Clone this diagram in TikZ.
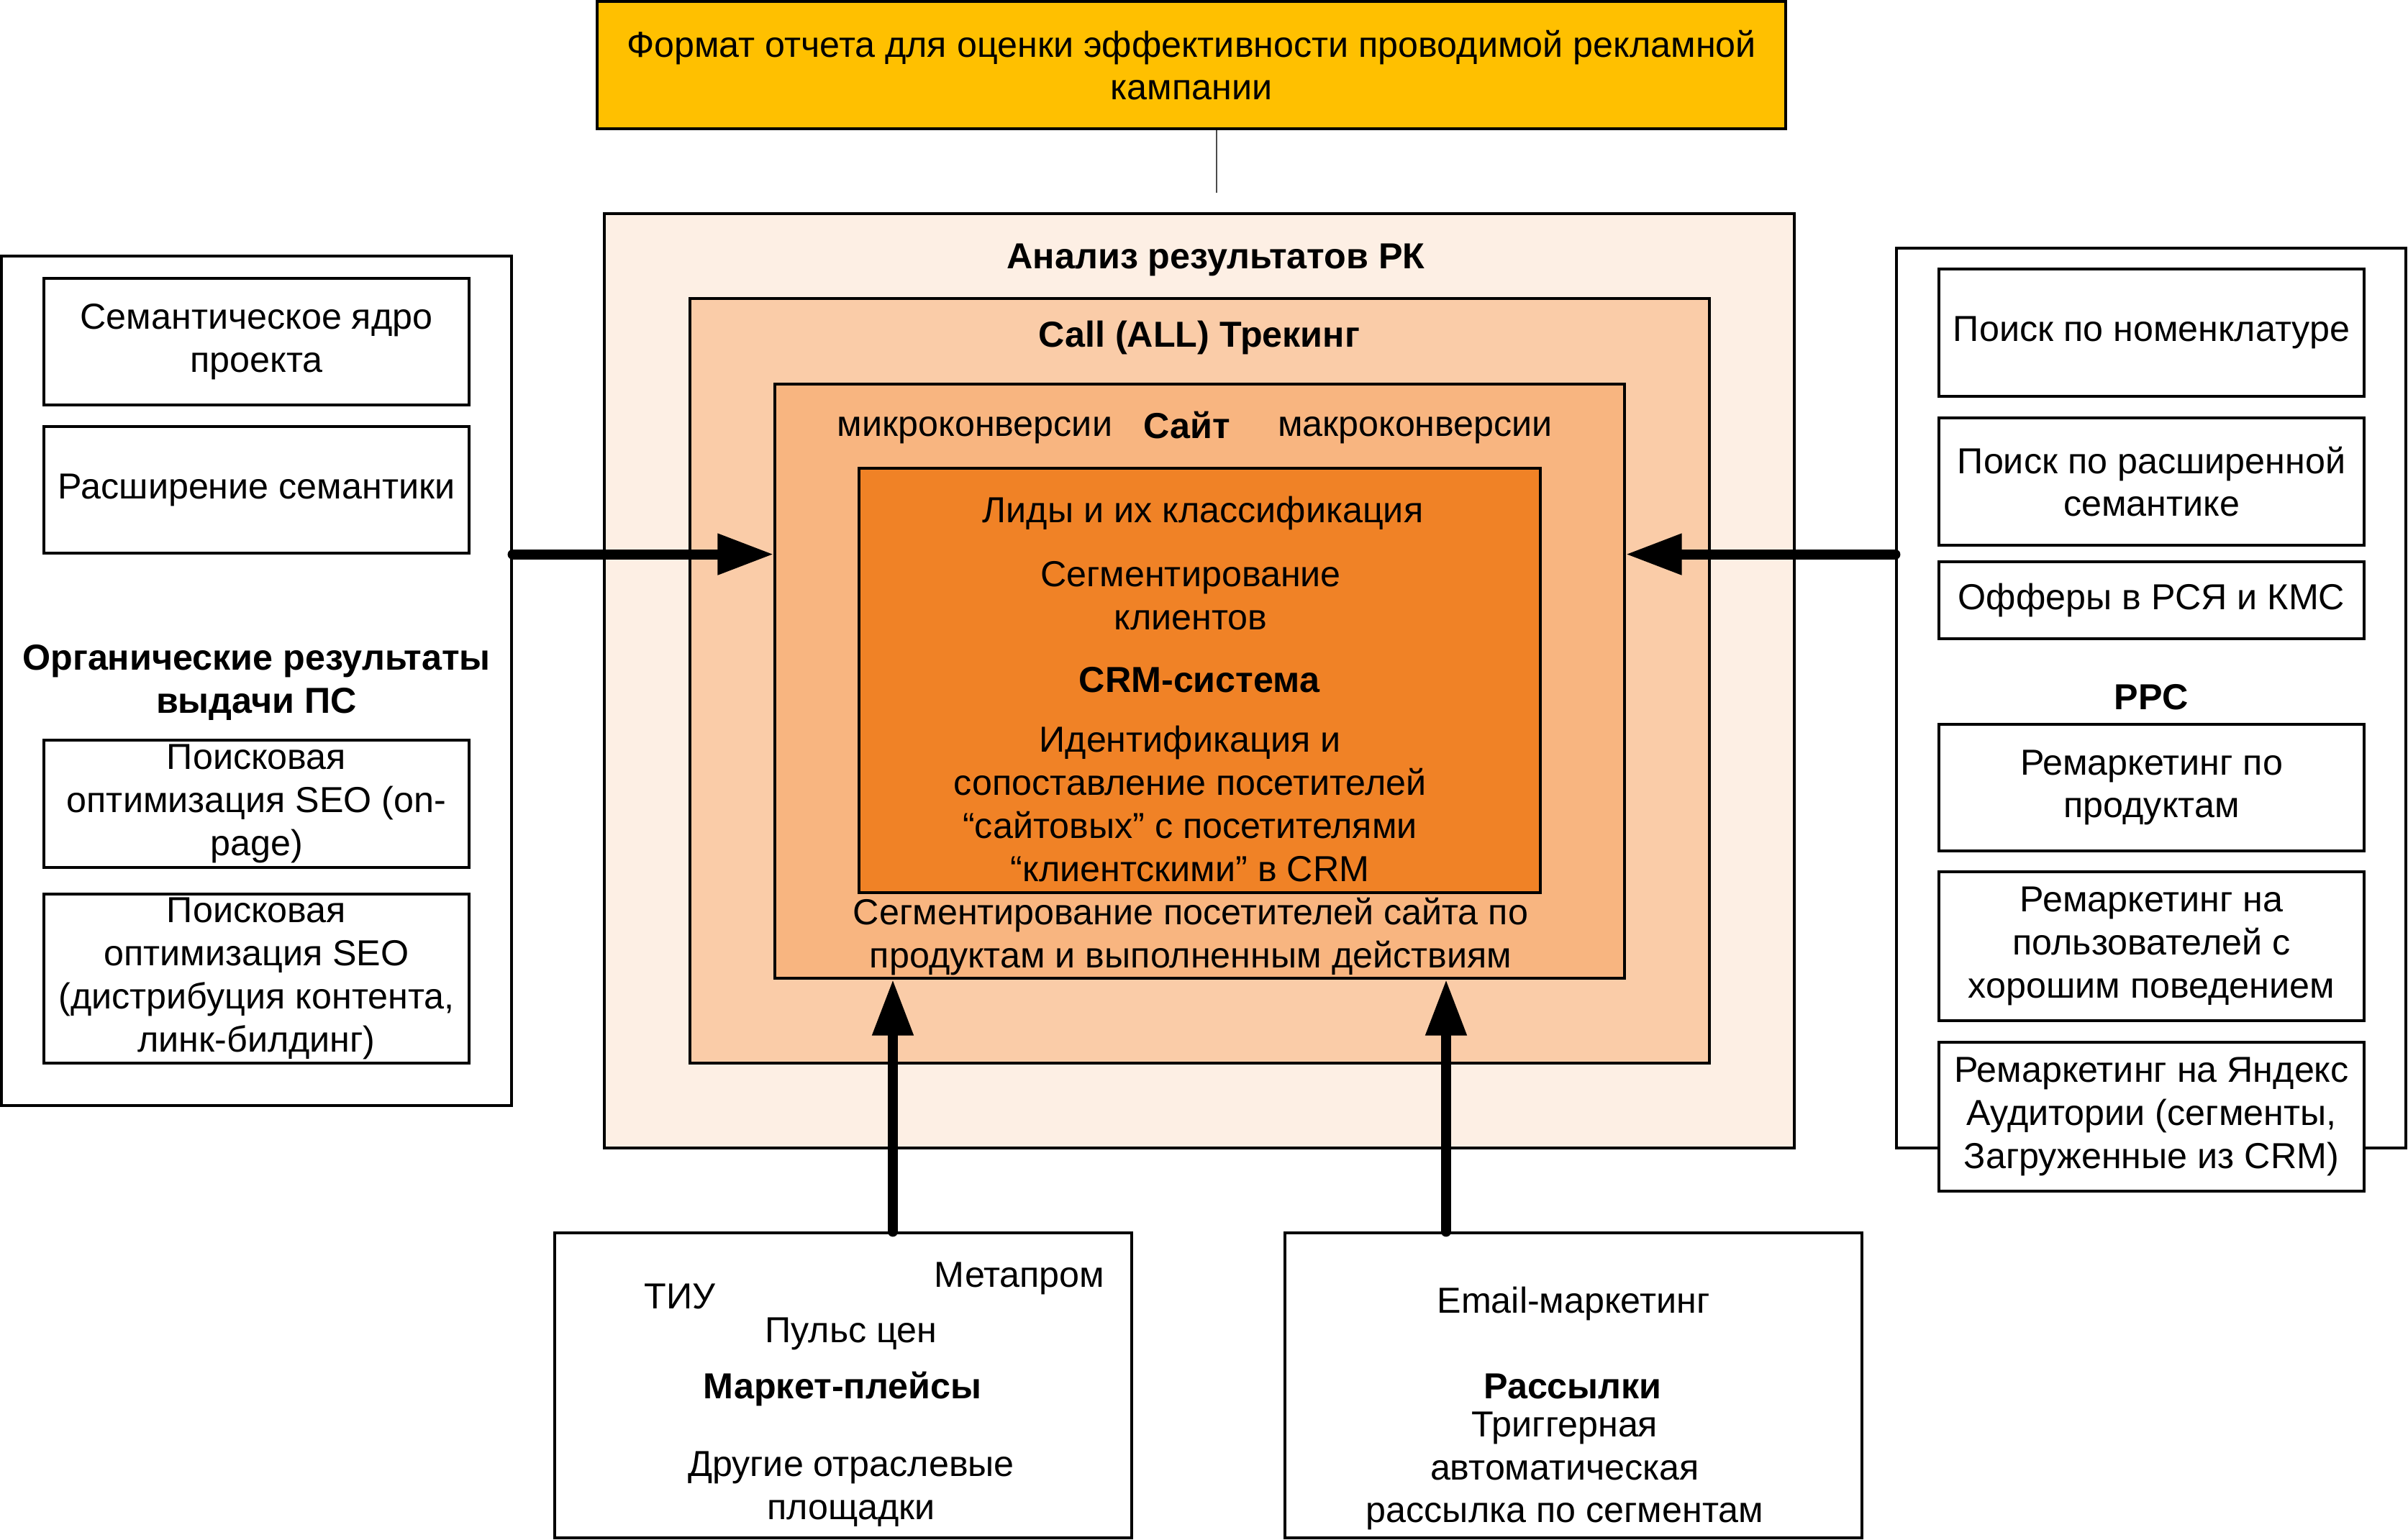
\documentclass[tikz,border=0pt]{standalone}
\usepackage{fontspec}
\setmainfont{Liberation Sans}
\usepackage{tikz}
\usetikzlibrary{arrows.meta, positioning}
\definecolor{fmtyellow}{RGB}{255, 192, 0}
\definecolor{peachA}{RGB}{253, 239, 228}
\definecolor{peachB}{RGB}{250, 204, 168}
\definecolor{peachC}{RGB}{248, 181, 128}
\definecolor{crmorange}{RGB}{240, 130, 38}
\newcommand{\diafont}{\fontsize{14.3pt}{17.0pt}\selectfont}

\begin{document}
\begin{tikzpicture}[
    box/.style={draw, line width=0.9pt, inner sep=0pt, align=center, font=\diafont},
    txt/.style={inner sep=0pt, align=center, font=\diafont},
    bold/.style={txt, font=\diafont\bfseries},
    bigarrow/.style={line width=4pt, line cap=round, -{Triangle[length=0.78cm, width=0.54cm]}}
  ]
  \useasboundingbox (0,0) rectangle (33.47,21.41);

  % Report format
  \node[box, fill=fmtyellow, minimum width=16.52cm, minimum height=1.77cm] (fmt) at (16.56, 20.505) {
    Формат отчета для оценки эффективности проводимой рекламной\\кампании
  };
  \coordinate (fmtend) at (16.91, 18.73);
  \draw[line width=0.5pt, black!70] (fmt.south -| fmtend) -- (fmtend);

  % Nested analysis boxes
  \node[box, fill=peachA, minimum width=16.54cm, minimum height=12.99cm] (anl) at (16.67, 11.945) {};
  \node[bold] (anltitle) at (16.9, 17.80) {Анализ результатов РК};

  \node[box, fill=peachB, minimum width=14.17cm, minimum height=10.63cm] (call) at (16.675, 11.945) {};
  \node[bold] (calltitle) at (16.67, 16.71) {Call (ALL) Трекинг};

  \node[box, fill=peachC, minimum width=11.81cm, minimum height=8.26cm] (site) at (16.675, 11.94) {};
  \node[txt] (micro) at (13.55, 15.43) {микроконверсии};
  \node[bold] (sitetitle) at (16.50, 15.50) {Сайт};
  \node[txt] (macro) at (19.67, 15.43) {макроконверсии};
  \node[txt] (sitesegm) at (16.55, 8.39) {Сегментирование посетителей сайта по\\продуктам и выполненным действиям};

  \node[box, fill=crmorange, minimum width=9.47cm, minimum height=5.90cm] (crm) at (16.675, 11.95) {};
  \node[txt] (leads) at (16.72, 14.27) {Лиды и их классификация};
  \node[txt] (clsegm) at (16.55, 13.13) {Сегментирование\\клиентов};
  \node[bold] (crmtitle) at (16.67, 11.96) {CRM-система};
  \node[txt] (ident) at (16.54, 10.235) {Идентификация и\\сопоставление посетителей\\“сайтовых” с посетителями\\“клиентскими” в CRM};

  % Organic search
  \node[box, fill=white, minimum width=7.09cm, minimum height=11.81cm] (org) at (3.565, 11.945) {};
  \node[box, fill=white, minimum width=5.91cm, minimum height=1.76cm] (l1) at (3.565, 16.66) {Семантическое ядро\\проекта};
  \node[box, fill=white, minimum width=5.91cm, minimum height=1.76cm] (l2) at (3.565, 14.60) {Расширение семантики};
  \node[bold] (orgtitle) at (3.565, 11.92) {Органические результаты\\выдачи ПС};
  \node[box, fill=white, minimum width=5.91cm, minimum height=1.77cm] (l3) at (3.565, 10.235) {Поисковая\\оптимизация SEO (on-\\page)};
  \node[box, fill=white, minimum width=5.91cm, minimum height=2.35cm] (l4) at (3.565, 7.805) {Поисковая\\оптимизация SEO\\(дистрибуция контента,\\линк-билдинг)};

  % PPC
  \node[box, fill=white, minimum width=7.08cm, minimum height=12.51cm] (ppc) at (29.90, 11.705) {};
  \node[box, fill=white, minimum width=5.91cm, minimum height=1.77cm] (r1) at (29.905, 16.785) {Поиск по номенклатуре};
  \node[box, fill=white, minimum width=5.91cm, minimum height=1.77cm] (r2) at (29.905, 14.715) {Поиск по расширенной\\семантике};
  \node[box, fill=white, minimum width=5.91cm, minimum height=1.07cm] (r3) at (29.905, 13.065) {Офферы в РСЯ и КМС};
  \node[bold] (ppctitle) at (29.905, 11.72) {PPC};
  \node[box, fill=white, minimum width=5.91cm, minimum height=1.76cm] (r4) at (29.905, 10.46) {Ремаркетинг по\\продуктам};
  \node[box, fill=white, minimum width=5.91cm, minimum height=2.07cm] (r5) at (29.905, 8.255) {Ремаркетинг на\\пользователей с\\хорошим поведением};
  \node[box, fill=white, minimum width=5.91cm, minimum height=2.07cm] (r6) at (29.905, 5.885) {Ремаркетинг на Яндекс\\Аудитории (сегменты,\\Загруженные из CRM)};

  % Marketplaces
  \node[box, fill=white, minimum width=8.02cm, minimum height=4.24cm] (mkt) at (11.72, 2.15) {};
  \node[txt] (metaprom) at (14.17, 3.64) {Метапром};
  \node[txt] (tiu) at (9.45, 3.39) {ТИУ};
  \node[txt] (pulse) at (11.83, 2.87) {Пульс цен};
  \node[bold] (mkttitle) at (11.71, 2.10) {Маркет-плейсы};
  \node[txt] (other) at (11.83, 0.71) {Другие отраслевые\\площадки};

  % Mailings
  \node[box, fill=white, minimum width=8.02cm, minimum height=4.24cm] (mail) at (21.87, 2.15) {};
  \node[txt] (email) at (21.87, 3.28) {Email-маркетинг};
  \node[bold] (mailtitle) at (21.86, 2.14) {Рассылки};
  \node[txt] (trigger) at (21.75, 0.96) {Триггерная\\автоматическая\\рассылка по сегментам};

  % Arrows into the site
  \draw[bigarrow] (org.east |- l2.south) -- (site.west |- l2.south);
  \draw[bigarrow] (ppc.west |- l2.south) -- (site.east |- l2.south);
  \draw[bigarrow] ([xshift=0.69cm]mkt.north) -- ([xshift=0.69cm]mkt.north |- site.south);
  \draw[bigarrow] ([xshift=-1.77cm]mail.north) -- ([xshift=-1.77cm]mail.north |- site.south);
\end{tikzpicture}
\end{document}
